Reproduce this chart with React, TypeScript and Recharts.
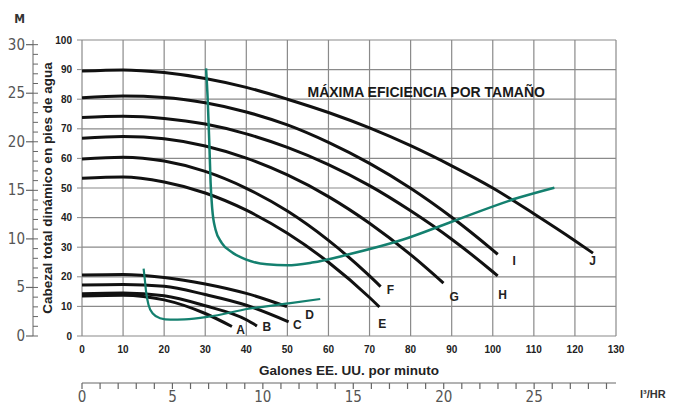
import { LineChart, Line, XAxis, YAxis, CartesianGrid, ReferenceDot, Label } from 'recharts';

// gpm (US) on x, feet of head on y
const gpmTicks = [0, 10, 20, 30, 40, 50, 60, 70, 80, 90, 100, 110, 120, 130];
const ftTicks = [0, 10, 20, 30, 40, 50, 60, 70, 80, 90, 100];
const meterTicks = Array.from({ length: 31 }, (_, i) => i);
const m3Ticks = Array.from({ length: 30 }, (_, i) => i);

const curveJ = [
  { q: 0, h: 89.5 }, { q: 10, h: 89.9 }, { q: 20, h: 89.0 }, { q: 30, h: 87.0 }, { q: 40, h: 84.0 },
  { q: 50, h: 80.0 }, { q: 60, h: 75.5 }, { q: 70, h: 70.3 }, { q: 80, h: 64.3 }, { q: 90, h: 57.5 },
  { q: 100, h: 50.0 }, { q: 110, h: 41.3 }, { q: 120, h: 32.2 }, { q: 124.4, h: 28.0 },
];
const curveI = [
  { q: 0, h: 80.5 }, { q: 10, h: 81.1 }, { q: 20, h: 80.6 }, { q: 30, h: 78.8 }, { q: 40, h: 75.7 },
  { q: 50, h: 71.3 }, { q: 60, h: 65.4 }, { q: 70, h: 58.3 }, { q: 80, h: 49.9 }, { q: 90, h: 40.1 },
  { q: 100, h: 29.0 }, { q: 101.2, h: 27.6 },
];
const curveH = [
  { q: 0, h: 73.8 }, { q: 10, h: 74.2 }, { q: 20, h: 73.5 }, { q: 30, h: 71.6 }, { q: 40, h: 68.3 },
  { q: 50, h: 63.7 }, { q: 60, h: 57.9 }, { q: 70, h: 50.8 }, { q: 80, h: 42.3 }, { q: 90, h: 32.7 },
  { q: 100, h: 21.7 }, { q: 101.2, h: 20.3 },
];
const curveG = [
  { q: 0, h: 66.8 }, { q: 10, h: 67.4 }, { q: 20, h: 66.6 }, { q: 30, h: 64.2 }, { q: 40, h: 60.1 },
  { q: 50, h: 54.4 }, { q: 60, h: 47.1 }, { q: 70, h: 38.1 }, { q: 80, h: 27.5 }, { q: 88, h: 17.9 },
];
const curveF = [
  { q: 0, h: 59.8 }, { q: 10, h: 60.4 }, { q: 20, h: 59.1 }, { q: 30, h: 55.6 }, { q: 40, h: 49.9 },
  { q: 50, h: 42.2 }, { q: 60, h: 32.3 }, { q: 70, h: 20.3 }, { q: 72.7, h: 16.7 },
];
const curveE = [
  { q: 0, h: 53.3 }, { q: 10, h: 53.7 }, { q: 20, h: 52.0 }, { q: 30, h: 48.3 }, { q: 40, h: 42.5 },
  { q: 50, h: 34.7 }, { q: 60, h: 24.9 }, { q: 70, h: 13.0 }, { q: 72.4, h: 9.8 },
];
const curveD = [
  { q: 0, h: 20.6 }, { q: 10, h: 20.8 }, { q: 20, h: 19.8 }, { q: 30, h: 17.6 }, { q: 40, h: 14.4 }, { q: 49.9, h: 9.9 },
];
const curveC = [
  { q: 0, h: 17.2 }, { q: 10, h: 17.4 }, { q: 20, h: 16.8 }, { q: 30, h: 14.0 }, { q: 40, h: 10.4 }, { q: 50.3, h: 4.8 },
];
const curveB = [
  { q: 0, h: 14.3 }, { q: 10, h: 14.5 }, { q: 20, h: 13.6 }, { q: 30, h: 10.2 }, { q: 40, h: 5.5 }, { q: 42.6, h: 3.4 },
];
const curveA = [
  { q: 0, h: 13.5 }, { q: 10, h: 13.8 }, { q: 20, h: 12.2 }, { q: 30, h: 7.6 }, { q: 36.5, h: 3.2 },
];

// best efficiency lines
const effLarge = [
  { q: 30.2, h: 90.4 }, { q: 30.6, h: 80 }, { q: 31.0, h: 65 }, { q: 31.3, h: 52 }, { q: 31.7, h: 43 },
  { q: 32.5, h: 36 }, { q: 34, h: 31.5 }, { q: 36.5, h: 28.3 }, { q: 40, h: 25.8 }, { q: 45, h: 24.2 },
  { q: 50, h: 23.9 }, { q: 56, h: 24.8 }, { q: 65, h: 27.6 }, { q: 78, h: 32.5 }, { q: 90, h: 38.6 },
  { q: 106, h: 46.6 }, { q: 115, h: 50.1 },
];
const effSmall = [
  { q: 15, h: 22.8 }, { q: 15.3, h: 19 }, { q: 15.6, h: 15 }, { q: 16.2, h: 10.5 }, { q: 17.3, h: 7.5 },
  { q: 19, h: 6 }, { q: 21.5, h: 5.5 }, { q: 25, h: 5.6 }, { q: 30.8, h: 6.5 }, { q: 40.6, h: 9.2 },
  { q: 50.3, h: 11 }, { q: 58, h: 12.5 },
];

const pumpCurves = [curveA, curveB, curveC, curveD, curveE, curveF, curveG, curveH, curveI, curveJ];

const curveLetters = [
  { text: 'A', q: 38.6, h: 2.2 }, { text: 'B', q: 45, h: 3.0 }, { text: 'C', q: 52.4, h: 3.7 },
  { text: 'D', q: 55.4, h: 7.1 }, { text: 'E', q: 73.1, h: 4.3 }, { text: 'F', q: 75.1, h: 15.5 },
  { text: 'G', q: 90.6, h: 13.3 }, { text: 'H', q: 102.4, h: 14.1 }, { text: 'I', q: 105.2, h: 25.3 },
  { text: 'J', q: 124.3, h: 25.3 },
];

// anchors the m³/hr axis to its own range
const m3Range = [{ q: 0, h: 0 }, { q: 29.5, h: 0 }];

const narrow = "'Liberation Sans Narrow', 'DejaVu Sans Condensed', 'Liberation Sans', sans-serif";

function MeterTick(props: any) {
  const { x, y, payload } = props;
  const major = payload.value % 5 === 0;
  return (
    <g>
      <line x1={x} x2={x + 5} y1={y} y2={y} stroke="#666" strokeWidth={1} />
      {major && <line x1={x - 7} x2={x} y1={y} y2={y} stroke="#666" strokeWidth={1.2} />}
      {major && (
        <text x={x - 8} y={y} dy={5} textAnchor="end" fill="#555" fontSize={15} fontFamily={narrow}>
          {payload.value}
        </text>
      )}
    </g>
  );
}

function M3Tick(props: any) {
  const { x, y, payload } = props;
  const major = payload.value % 5 === 0;
  return (
    <g>
      <line x1={x} x2={x} y1={y} y2={y + 6} stroke="#666" strokeWidth={1.2} />
      {major && (
        <text x={x} y={y + 19} textAnchor="middle" fill="#555" fontSize={15} fontFamily={narrow}>
          {payload.value}
        </text>
      )}
    </g>
  );
}

export default function App() {
  return (
    <div style={{ position: 'absolute', left: 0, top: 0, background: '#fff' }}>
      <LineChart
        width={689}
        height={406}
        margin={{ top: 40, right: 73, bottom: 0, left: 0 }}
        style={{ fontFamily: "'Liberation Sans', Arial, sans-serif" }}
      >
        <CartesianGrid xAxisId="gpm" yAxisId="ft" stroke="#8a8a8a" strokeWidth={1.2} />
        <XAxis
          xAxisId="gpm"
          type="number"
          dataKey="q"
          domain={[0, 130]}
          ticks={gpmTicks}
          allowDataOverflow
          interval={0}
          height={47}
          axisLine={false}
          tickLine={false}
          tickSize={0}
          tickMargin={10}
          tick={{ fill: '#222', fontSize: 10, fontWeight: 'bold' }}
        >
          <Label value="Galones EE. UU. por minuto" position="insideBottom" offset={8} fill="#222" fontSize={13.5} fontWeight="bold" />
        </XAxis>
        <XAxis
          xAxisId="m3"
          type="number"
          dataKey="q"
          domain={[0, 29.526]}
          ticks={m3Ticks}
          allowDataOverflow
          interval={0}
          height={23}
          stroke="#666"
          tickSize={0}
          tickMargin={0}
          tickLine={false}
          tick={<M3Tick />}
        >
          <Label value="l³/HR" position="right" offset={24} fill="#333" fontSize={11} fontWeight="bold" />
        </XAxis>
        <YAxis
          yAxisId="ft"
          type="number"
          domain={[0, 100]}
          ticks={ftTicks}
          allowDataOverflow
          interval={0}
          width={49}
          axisLine={false}
          tickSize={5}
          tickMargin={5}
          tickLine={{ stroke: '#8a8a8a' }}
          tick={{ fill: '#222', fontSize: 10, fontWeight: 'bold' }}
        >
          <Label
            value="Cabezal total dinámico en pies de agua"
            angle={-90}
            position="insideLeft"
            offset={14}
            fill="#222"
            fontSize={13.5}
            fontWeight="bold"
            style={{ textAnchor: 'middle' }}
          />
        </YAxis>
        <YAxis
          yAxisId="m"
          type="number"
          domain={[0, 30.48]}
          ticks={meterTicks}
          allowDataOverflow
          interval={0}
          width={33}
          stroke="#666"
          tickSize={0}
          tickMargin={0}
          tickLine={false}
          tick={<MeterTick />}
        >
          <Label value="M" position="top" offset={17} dx={3} fill="#333" fontSize={12} fontWeight="bold" fontFamily={narrow} />
        </YAxis>

        <Line xAxisId="m3" yAxisId="m" data={m3Range} dataKey="h" stroke="none" dot={false} legendType="none" isAnimationActive={false} />

        {pumpCurves.map((c, i) => (
          <Line
            key={i}
            xAxisId="gpm"
            yAxisId="ft"
            data={c}
            dataKey="h"
            type="monotone"
            stroke="#111"
            strokeWidth={3}
            dot={false}
            isAnimationActive={false}
          />
        ))}
        <Line xAxisId="gpm" yAxisId="ft" data={effLarge} dataKey="h" type="monotone" stroke="#14806f" strokeWidth={2.5} dot={false} isAnimationActive={false} />
        <Line xAxisId="gpm" yAxisId="ft" data={effSmall} dataKey="h" type="monotone" stroke="#14806f" strokeWidth={2.2} dot={false} isAnimationActive={false} />

        {curveLetters.map((l) => (
          <ReferenceDot
            key={l.text}
            xAxisId="gpm"
            yAxisId="ft"
            x={l.q}
            y={l.h}
            r={0}
            fill="none"
            stroke="none"
            label={{ value: l.text, position: 'center', fill: '#222', fontSize: 12, fontWeight: 'bold' }}
          />
        ))}
        <ReferenceDot
          xAxisId="gpm"
          yAxisId="ft"
          x={83.8}
          y={82.5}
          r={0}
          fill="none"
          stroke="none"
          label={{ value: 'MÁXIMA EFICIENCIA POR TAMAÑO', position: 'center', fill: '#1a1a1a', fontSize: 14, fontWeight: 'bold' }}
        />
      </LineChart>
    </div>
  );
}
